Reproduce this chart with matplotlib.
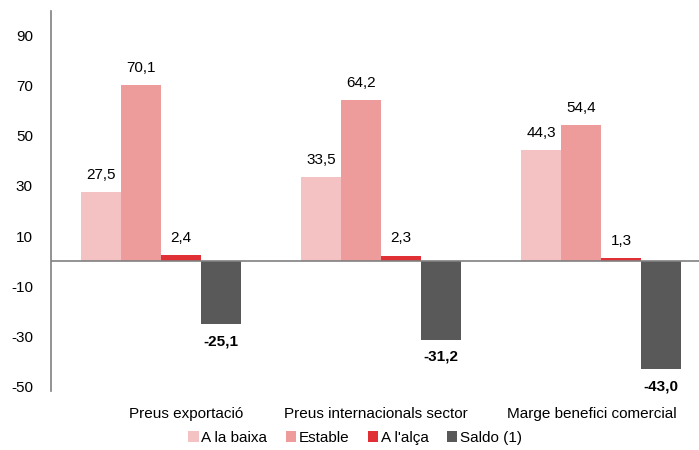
import matplotlib.pyplot as plt
import numpy as np

plt.rcParams['font.family'] = ['Liberation Sans', 'DejaVu Sans']
plt.rcParams['axes.unicode_minus'] = False

categories = ["Preus exportació", "Preus internacionals sector", "Marge benefici comercial"]
series = ["A la baixa", "Estable", "A l'alça", "Saldo (1)"]
baixa = [27.5, 33.5, 44.3]
estable = [70.1, 64.2, 54.4]
alca = [2.4, 2.3, 1.3]
saldo = [-25.1, -31.2, -43.0]
yticks = [-50, -30, -10, 10, 30, 50, 70, 90]

colors = ["#F4C2C2", "#EE9B9C", "#E03035", "#595959"]

fig = plt.figure(figsize=(6.99, 4.5), dpi=100)
ax = fig.add_axes([51 / 699, 59 / 450, 648 / 699, 380 / 450])

x = np.arange(len(categories))
w = 0.182
offsets = [-1.5, -0.5, 0.5, 1.5]
values = [baixa, estable, alca, saldo]

for vals, off, col, name in zip(values, offsets, colors, series):
    bars = ax.bar(x + off * w, vals, w, color=col, label=name, zorder=2)
    for b, v in zip(bars, vals):
        txt = f"{v:.1f}".replace(".", ",")
        cx = b.get_x() + b.get_width() / 2
        if v >= 0:
            ax.text(cx, v + 4, txt, ha="center", va="bottom", fontsize=11)
        else:
            ax.text(cx, v - 4, txt, ha="center", va="top", fontsize=11,
                    fontweight="bold")

ax.axhline(0, color="#808080", lw=1.2, zorder=3)
ax.set_xlim(-0.5, 2.445)
ax.set_ylim(-51.6, 99.6)
ax.set_yticks(yticks)
ax.tick_params(axis="y", length=0, labelsize=11, pad=13)
ax.tick_params(axis="x", length=0)
ax.set_xticks([])
for s in ["top", "right", "bottom"]:
    ax.spines[s].set_visible(False)
ax.spines["left"].set_color("#808080")
ax.spines["left"].set_linewidth(1.2)

label_x = [186, 376, 592]
for lx, cat in zip(label_x, categories):
    fig.text(lx / 699, 1 - 414 / 450, cat, ha="center", va="center", fontsize=11)

fig.legend(loc="center", bbox_to_anchor=(355 / 699, 1 - 438 / 450), ncol=4,
           frameon=False, fontsize=11, handlelength=0.7, handleheight=0.7,
           handletextpad=0.15, columnspacing=1.2)

fig.savefig("out.png", dpi=100)
